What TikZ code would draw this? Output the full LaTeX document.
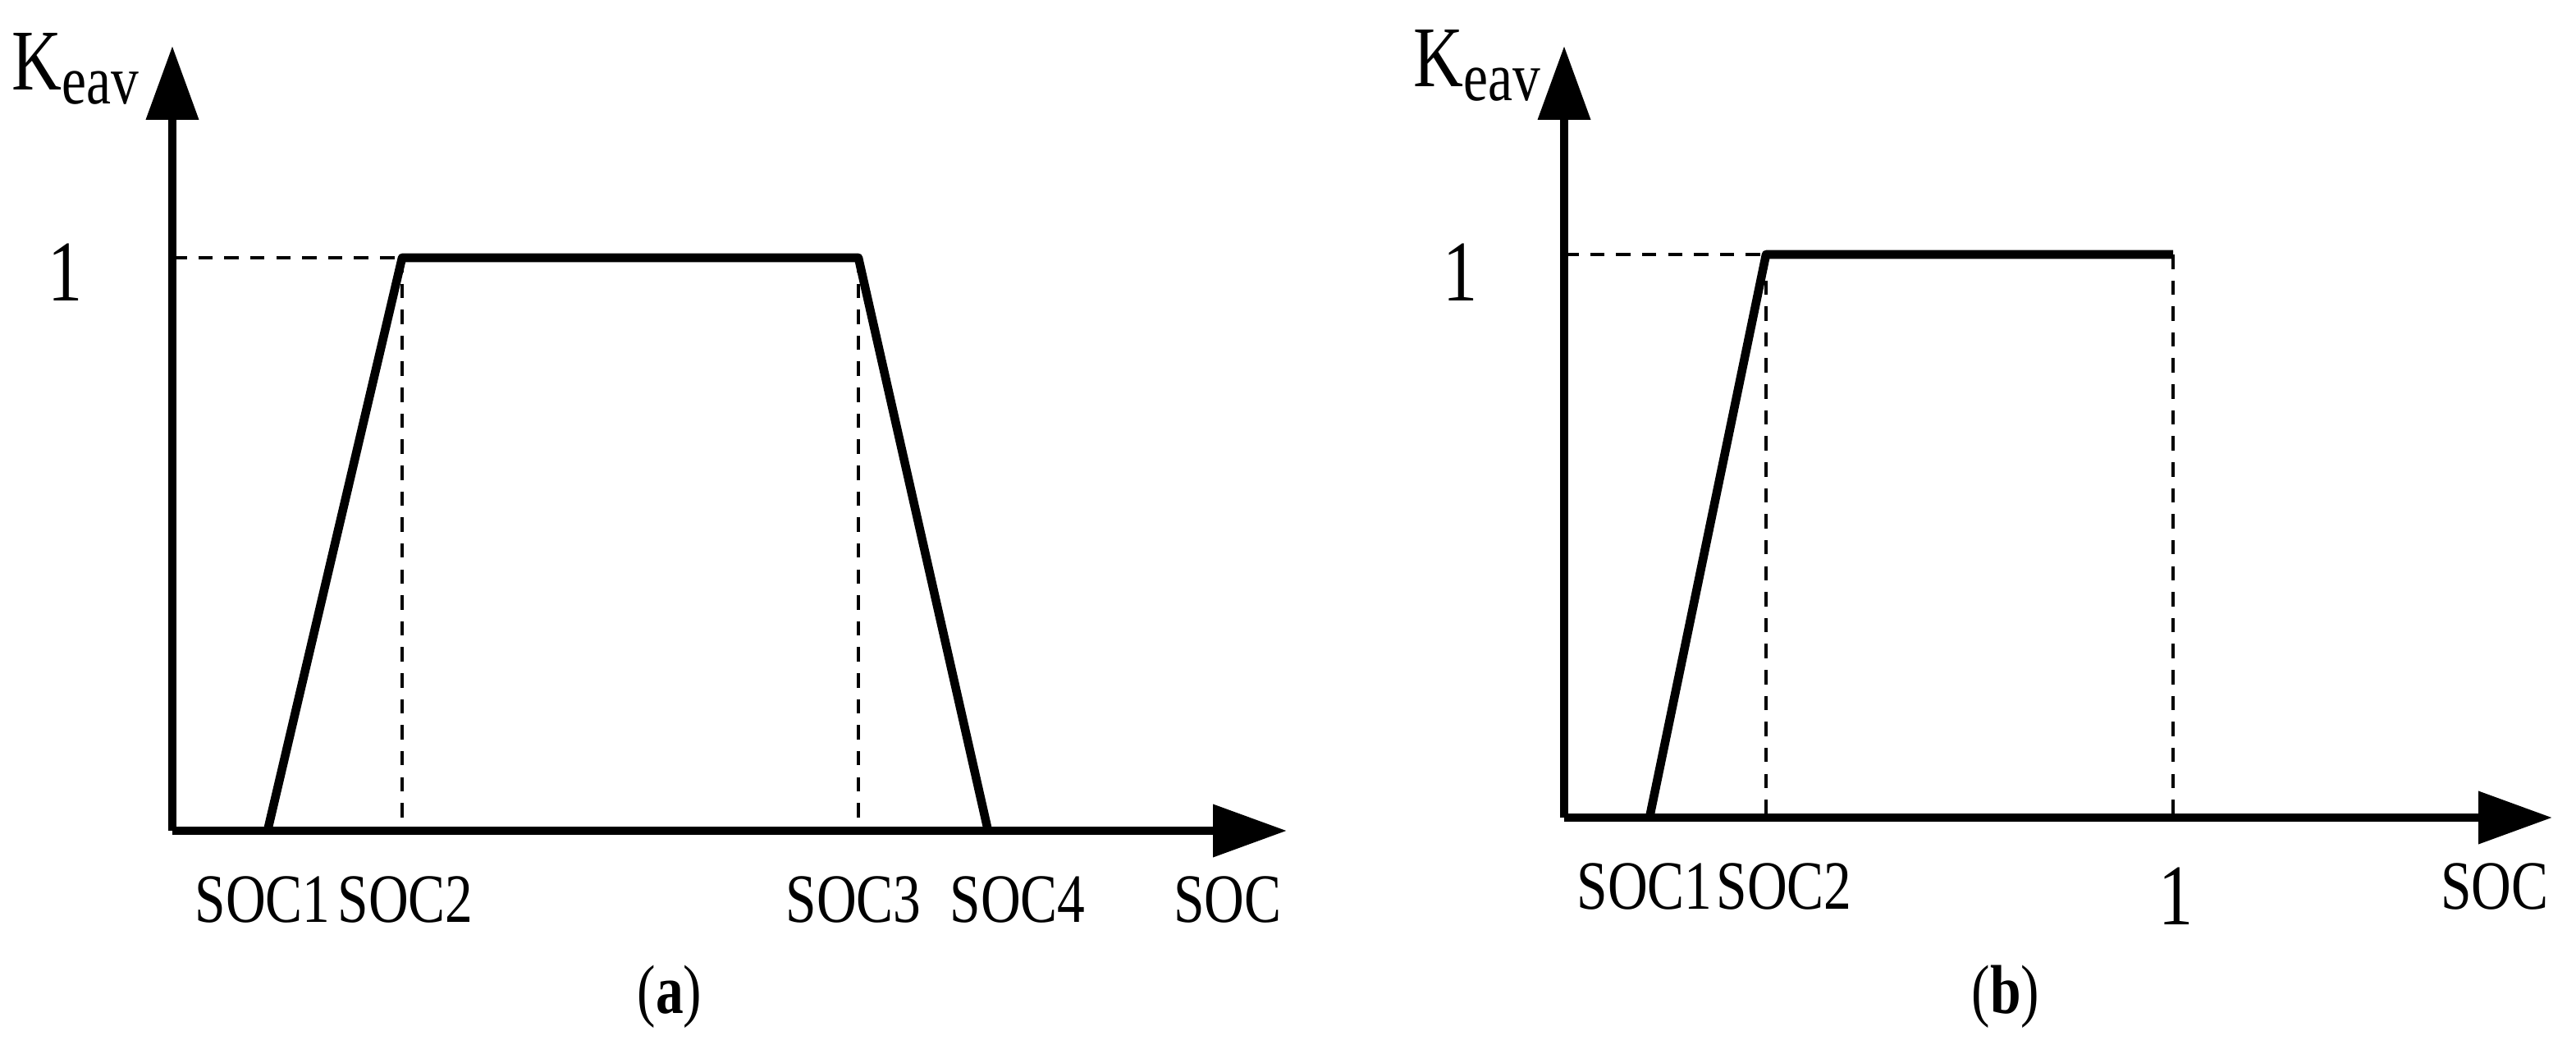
\documentclass[tikz,border=0pt]{standalone}
\usepackage{fontspec}
\setmainfont{Liberation Serif}
\usetikzlibrary{arrows.meta}
\newcommand{\narrow}[1]{\scalebox{0.8}[1]{#1}}
\begin{document}
\begin{tikzpicture}[x=0.02cm,y=-0.02cm,
  axis/.style={line width=3pt,-{Triangle[length=0.9cm,width=0.62cm]}},
  curve/.style={line width=3pt,line join=round},
  guide/.style={line width=1.1pt,dash pattern=on 5pt off 4pt},
  lbl/.style={font=\fontsize{24}{28}\selectfont,inner sep=0pt},
  big/.style={font=\fontsize{30}{34}\selectfont,inner sep=0pt}]
\useasboundingbox (0,0) rectangle (1569.5,636.5);
% (a)
\coordinate (ao) at (105,506);
\coordinate (ay) at (105,28);
\coordinate (ax) at (784,506);
\coordinate (a1) at (163,506);
\coordinate (a2) at (245,157);
\coordinate (a3) at (523,157);
\coordinate (a4) at (602,506);
\coordinate (a2b) at (245,506);
\coordinate (a3b) at (523,506);
\coordinate (ay1) at (105,157);
\draw[guide] (ay1) -- (a2);
\draw[guide] (a2) -- (a2b);
\draw[guide] (a3) -- (a3b);
\draw[axis] (ao) -- (ay);
\draw[axis] (ao) -- (ax);
\draw[curve] (a1) -- (a2) -- (a3) -- (a4);
\node[big,anchor=west] (ak) at (7,42) {\narrow{K\raisebox{-0.35ex}{\fontsize{24}{28}\selectfont eav}}};
\node[big] (aone) at (40,166) {\narrow{1}};
\node[lbl] (as1) at (160,548) {\narrow{SOC1}};
\node[lbl] (as2) at (247,548) {\narrow{SOC2}};
\node[lbl] (as3) at (520,548) {\narrow{SOC3}};
\node[lbl] (as4) at (620,548) {\narrow{SOC4}};
\node[lbl] (as) at (748,548) {\narrow{SOC}};
\node[lbl] (acap) at (408,607) {\narrow{(\textbf{a})}};
% (b)
\coordinate (bo) at (953,498);
\coordinate (by) at (953,28);
\coordinate (bx) at (1555,498);
\coordinate (b1) at (1005,498);
\coordinate (b2) at (1076,155);
\coordinate (b3) at (1324,155);
\coordinate (b2b) at (1076,498);
\coordinate (b3b) at (1324,498);
\coordinate (by1) at (953,155);
\draw[guide] (by1) -- (b2);
\draw[guide] (b2) -- (b2b);
\draw[guide] (b3) -- (b3b);
\draw[axis] (bo) -- (by);
\draw[axis] (bo) -- (bx);
\draw[curve] (b1) -- (b2) -- (b3);
\node[big,anchor=west] (bk) at (861,40) {\narrow{K\raisebox{-0.35ex}{\fontsize{24}{28}\selectfont eav}}};
\node[big] (bone) at (890,166) {\narrow{1}};
\node[lbl] (bs1) at (1002,540) {\narrow{SOC1}};
\node[lbl] (bs2) at (1087,540) {\narrow{SOC2}};
\node[big] (bonex) at (1326,546) {\narrow{1}};
\node[lbl] (bs) at (1520,540) {\narrow{SOC}};
\node[lbl] (bcap) at (1222,607) {\narrow{(\textbf{b})}};
\end{tikzpicture}
\end{document}
